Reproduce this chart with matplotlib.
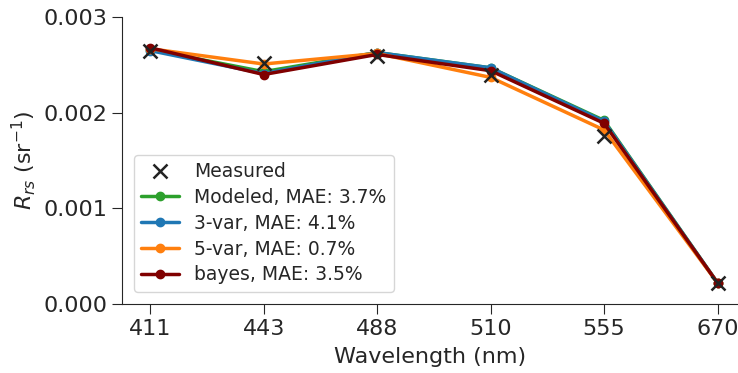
import matplotlib
matplotlib.use("Agg")
import matplotlib.pyplot as plt
import seaborn as sns

sns.set_style("ticks")
plt.rcParams['font.family'] = ['DejaVu Sans']

wavelengths = ['411', '443', '488', '510', '555', '670']
measured = [0.00265, 0.00252, 0.00259, 0.00240, 0.00176, 0.00022]
modeled = [0.00266, 0.00243, 0.00263, 0.00247, 0.00192, 0.00022]
var3 = [0.00265, 0.00241, 0.00263, 0.00247, 0.00191, 0.00022]
var5 = [0.00267, 0.00251, 0.00262, 0.00237, 0.00182, 0.00022]
bayes = [0.00268, 0.00240, 0.00261, 0.00244, 0.00189, 0.00022]

x = list(range(len(wavelengths)))

fig = plt.figure(figsize=(7.38, 3.73), dpi=100)
ax = fig.add_axes([0.165, 0.185, 0.835, 0.769])

ax.plot(x, measured, 'x', color='#222222', markersize=10, markeredgewidth=1.8,
        label='Measured', zorder=10)
ax.plot(x, modeled, '-o', color='#2ca02c', lw=2.5, markersize=6, label='Modeled, MAE: 3.7%')
ax.plot(x, var3, '-o', color='#1f77b4', lw=2.5, markersize=6, label='3-var, MAE: 4.1%')
ax.plot(x, var5, '-o', color='#ff7f0e', lw=2.5, markersize=6, label='5-var, MAE: 0.7%')
ax.plot(x, bayes, '-o', color='#800000', lw=2.5, markersize=6, label='bayes, MAE: 3.5%')

ax.set_xticks(x)
ax.set_xticklabels(wavelengths)
ax.set_xlim(-0.25, 5.18)
ax.set_ylim(0, 0.003)
ax.set_yticks([0, 0.001, 0.002, 0.003])
ax.set_yticklabels(['0.000', '0.001', '0.002', '0.003'])
ax.tick_params(labelsize=16, length=7)
ax.set_xlabel('Wavelength (nm)', fontsize=16, labelpad=6)
ax.set_ylabel('$R_{rs}$ (sr$^{-1}$)', fontsize=16)
sns.despine(ax=ax)

ax.legend(loc='lower left', fontsize=13.5, handlelength=2.0, borderaxespad=0.65,
          labelspacing=0.36)

fig.savefig('out.png', dpi=100)
